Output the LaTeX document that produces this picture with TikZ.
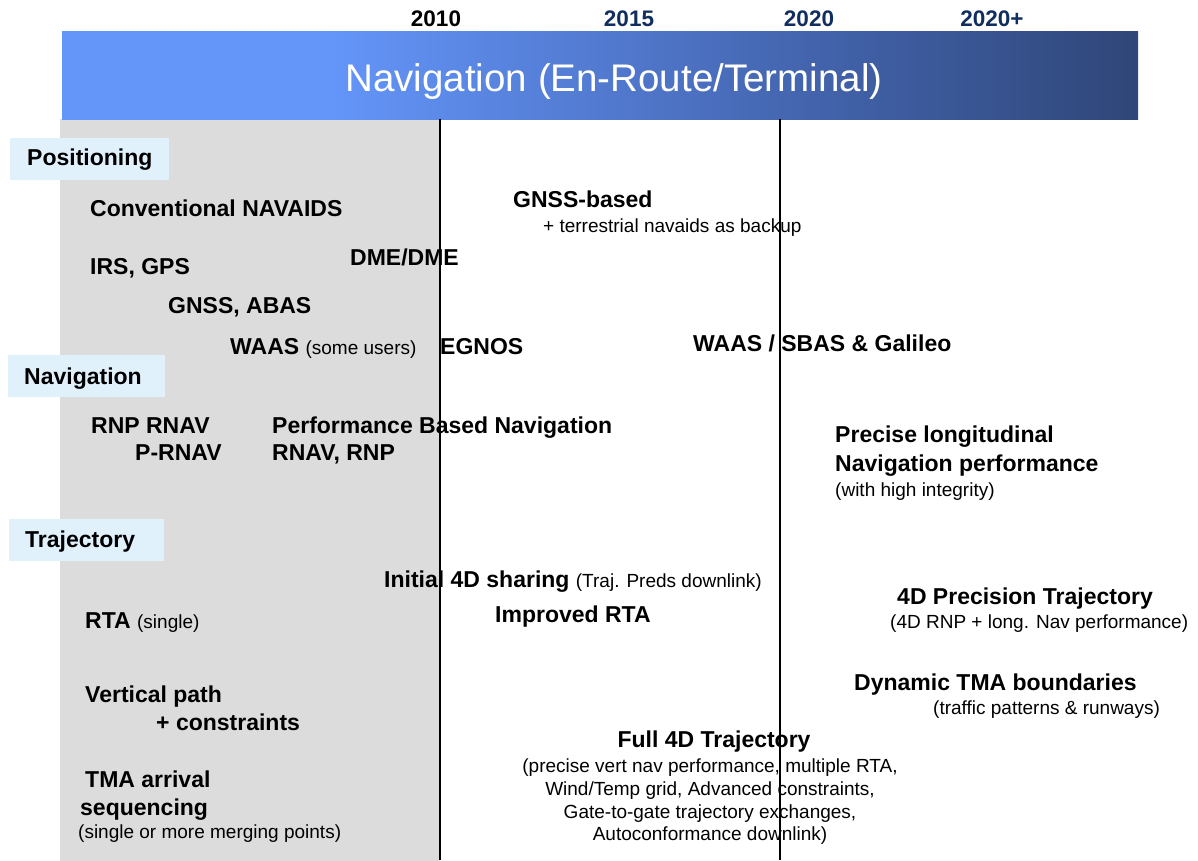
\documentclass[tikz,border=0pt]{standalone}
\usepackage{fontspec}
\setmainfont{Liberation Sans}
\definecolor{barA}{RGB}{100,150,250}
\definecolor{barB}{RGB}{82,122,208}
\definecolor{barC}{RGB}{63,94,163}
\definecolor{barD}{RGB}{47,70,120}
\definecolor{yearnavy}{RGB}{16,46,96}
\definecolor{panelgray}{RGB}{220,220,220}
\definecolor{secblue}{RGB}{225,241,252}
\pgfdeclarehorizontalshading{navbar}{100bp}{color(0bp)=(barA); color(25bp)=(barA); color(37bp)=(barA); color(50bp)=(barB); color(62.5bp)=(barC); color(75bp)=(barD); color(100bp)=(barD)}
\newcommand{\rtf}{\mdseries\fontsize{19}{22}\selectfont}
\begin{document}
\begin{tikzpicture}[x=1pt,y=-1pt,
  bt/.style={font=\bfseries\fontsize{23}{27}\selectfont, inner sep=0pt, anchor=base west},
  rt/.style={font=\fontsize{19}{22}\selectfont, inner sep=0pt, anchor=base west},
  yr/.style={font=\bfseries\fontsize{22.5}{26}\selectfont, inner sep=0pt, anchor=base},
  secbox/.style={fill=secblue, inner sep=0pt, anchor=north west},
  sectext/.style={font=\bfseries\fontsize{23}{27}\selectfont, inner sep=0pt, anchor=base west},
  tline/.style={draw=black}
]
\useasboundingbox (0,0) rectangle (1198,861);
\fill[white] (0,0) rectangle (1198,861);
% gray panel
\fill[panelgray] (60,119) rectangle (440,861);
% header bar
\shade[shading=navbar] (62,32) rectangle (1138,119.5);
\node[font=\fontsize{38.5}{44}\selectfont, text=white, inner sep=0pt, anchor=base] (title) at (614,92) {Navigation (En-Route/Terminal)};
% years
\node[yr, text=black] (y2010) at (436,27) {2010};
\node[yr, text=yearnavy] (y2015) at (629,27) {2015};
\node[yr, text=yearnavy] (y2020) at (809,27) {2020};
\node[yr, text=yearnavy] (y2020p) at (992,27) {2020+};
% time lines
\coordinate (l1top) at (440,119);
\coordinate (l1bot) at (440,860);
\coordinate (l2top) at (780,119);
\coordinate (l2bot) at (780,860);
\draw[tline, line width=2.2pt] (l1top) -- (l1bot);
\draw[tline, line width=1.5pt] (l2top) -- (l2bot);
% section boxes
\node[secbox, minimum width=159pt, minimum height=42pt] (posbox) at (10,138) {};
\node[sectext] (postext) at (27,166) {Positioning};
\node[secbox, minimum width=157pt, minimum height=42pt] (navbox) at (8,355) {};
\node[sectext] (navtext) at (24,384) {Navigation};
\node[secbox, minimum width=155pt, minimum height=42pt] (trajbox) at (9,519) {};
\node[sectext] (trajtext) at (25,547) {Trajectory};
% positioning
\node[bt] (conv) at (90,216) {Conventional NAVAIDS};
\node[bt] (gnssb) at (513,207) {GNSS-based};
\node[rt] (terr) at (543,232) {+ terrestrial navaids as backup};
\node[bt] (irs) at (90,274) {IRS, GPS};
\node[bt] (dme) at (350,265) {DME/DME};
\node[bt] (gnss) at (168,313) {GNSS, ABAS};
\node[bt] (waas) at (230,354) {WAAS {\rtf(some users)}};
\node[bt] (egnos) at (440,354) {EGNOS};
\node[bt] (waas2) at (693,351) {WAAS / SBAS \& Galileo};
% navigation
\node[bt] (rnp) at (91,433) {RNP RNAV};
\node[bt] (prnav) at (135,460) {P-RNAV};
\node[bt] (pbn) at (272,433) {Performance Based Navigation};
\node[bt] (rnavrnp) at (272,460) {RNAV, RNP};
\node[bt] (prec1) at (835,442) {Precise longitudinal};
\node[bt] (prec2) at (835,471) {Navigation performance};
\node[rt] (prec3) at (835,496) {(with high integrity)};
% trajectory
\node[bt] (init4d) at (384,587) {Initial 4D sharing {\rtf(Traj. Preds downlink)}};
\node[bt] (imprta) at (495,622) {Improved RTA};
\node[bt] (p4d) at (897,604) {4D Precision Trajectory};
\node[rt] (p4dsub) at (890,628) {(4D RNP + long. Nav performance)};
\node[bt] (rta) at (85,628) {RTA {\rtf(single)}};
\node[bt] (vert1) at (85,702) {Vertical path};
\node[bt] (vert2) at (156,730) {+ constraints};
\node[bt] (dyn) at (854,690) {Dynamic TMA boundaries};
\node[rt] (dynsub) at (933,714) {(traffic patterns \& runways)};
\node[bt, anchor=base] (full) at (714,747) {Full 4D Trajectory};
\node[rt, anchor=base] (fs1) at (710,772) {(precise vert nav performance, multiple RTA,};
\node[rt, anchor=base] (fs2) at (710,795) {Wind/Temp grid, Advanced constraints,};
\node[rt, anchor=base] (fs3) at (710,818) {Gate-to-gate trajectory exchanges,};
\node[rt, anchor=base] (fs4) at (710,840) {Autoconformance downlink)};
\node[bt] (tma1) at (85,787) {TMA arrival};
\node[bt] (tma2) at (80,815) {sequencing};
\node[rt] (tma3) at (78,838) {(single or more merging points)};
\end{tikzpicture}
\end{document}
